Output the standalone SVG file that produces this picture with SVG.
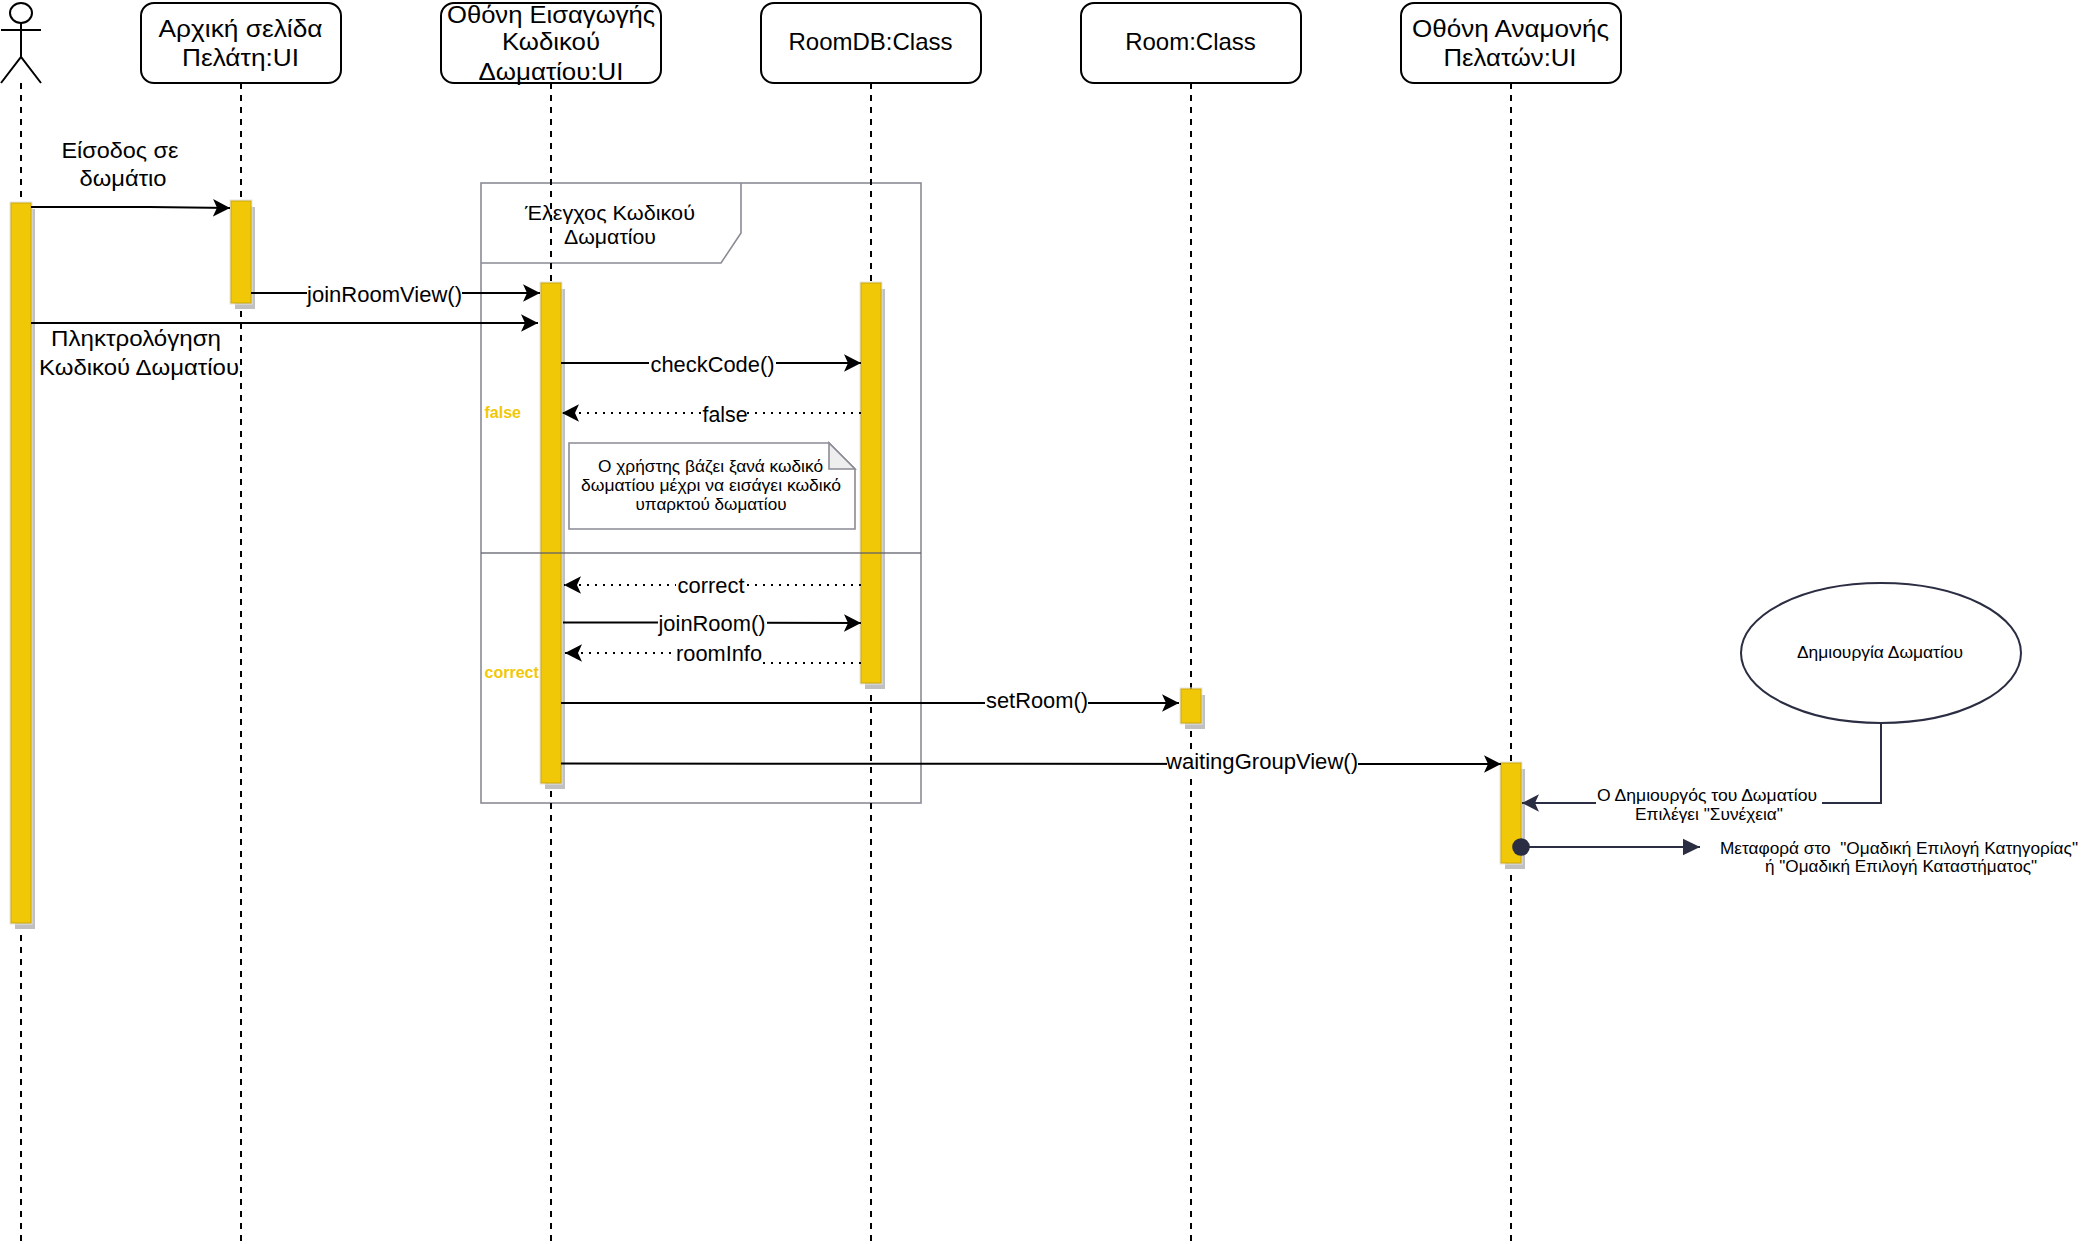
<svg xmlns="http://www.w3.org/2000/svg" width="2084" height="1244" viewBox="0 0 2084 1244">
<style>
text{font-family:"Liberation Sans",Arial,sans-serif;fill:#000;text-anchor:middle;white-space:pre}
.t24{font-size:24px}
.t21{font-size:21.33px}
.t20{font-size:20px}
.t16{font-size:16px}
.box{fill:#fff;stroke:#000;stroke-width:2}
.life{fill:none;stroke:#000;stroke-width:2;stroke-dasharray:6 6}
.act{fill:#f1c807;stroke:#c9a60e;stroke-width:1}
.halo{fill:none;stroke:#e4e4e4;stroke-width:1}
.shadow{fill:#c0c0c0;stroke:none}
.frame{fill:none;stroke:#8b8b96;stroke-width:1.6}
.msg{fill:none;stroke:#000;stroke-width:2}
.ret{fill:none;stroke:#000;stroke-width:2;stroke-dasharray:2 6}
.dark{fill:none;stroke:#2b2d42;stroke-width:2}
.bg{fill:#fff;stroke:none}
.yl{font-size:16px;font-weight:bold;fill:#f1c807;text-anchor:start}
</style>
<defs>
<marker id="arr" markerUnits="userSpaceOnUse" markerWidth="20" markerHeight="20" refX="17" refY="10" orient="auto"><path d="M0 1.3L17 10L0 18.7L4 10Z" fill="#000"/></marker>
<marker id="arrD" markerUnits="userSpaceOnUse" markerWidth="20" markerHeight="20" refX="17" refY="10" orient="auto"><path d="M0 1.3L17 10L0 18.7L4 10Z" fill="#2b2d42"/></marker>
<marker id="blockD" markerUnits="userSpaceOnUse" markerWidth="20" markerHeight="20" refX="17" refY="10" orient="auto"><path d="M0 1.7L17 10L0 18.3Z" fill="#2b2d42"/></marker>
</defs>
<g id="frame">
<rect class="frame" x="481" y="183" width="440" height="620"/>
<path class="frame" d="M481 263H721L741 233V183"/>
<text class="t20" x="610" y="220" textLength="170" lengthAdjust="spacingAndGlyphs">Έλεγχος Κωδικού</text>
<text class="t20" x="610" y="244" textLength="92" lengthAdjust="spacingAndGlyphs">Δωματίου</text>
<text class="yl" x="484.500" y="418">false</text>
<text class="yl" x="484.500" y="678">correct</text>
</g>
<g id="actor">
<line class="life" x1="21" y1="83" x2="21" y2="1244"/>
<g fill="none" stroke="#000" stroke-width="2">
<ellipse cx="21" cy="13" rx="11" ry="10" fill="#fff"/>
<path d="M21 23V57M1 30H41M1 83L21 57L41 83"/>
</g>
<rect class="shadow" x="15" y="209" width="20" height="720"/>
<rect class="halo" x="10" y="202" width="22" height="722"/>
<rect class="act" x="11" y="203" width="20" height="720"/>
</g>
<g id="home-ui">
<line class="life" x1="241" y1="83" x2="241" y2="1244"/>
<rect class="box" x="141" y="3" width="200" height="80" rx="13"/>
<text class="t24" x="240.500" y="36.500" textLength="164" lengthAdjust="spacingAndGlyphs">Αρχική σελίδα</text>
<text class="t24" x="240.500" y="66" textLength="117" lengthAdjust="spacingAndGlyphs">Πελάτη:UI</text>
<rect class="shadow" x="235" y="207" width="20" height="102"/>
<rect class="halo" x="230" y="200" width="22" height="104"/>
<rect class="act" x="231" y="201" width="20" height="102"/>
</g>
<g id="code-ui">
<line class="life" x1="551" y1="83" x2="551" y2="1244"/>
<rect class="box" x="441" y="3" width="220" height="80" rx="13"/>
<text class="t24" x="551" y="23" textLength="208" lengthAdjust="spacingAndGlyphs">Οθόνη Εισαγωγής</text>
<text class="t24" x="551" y="50" textLength="98" lengthAdjust="spacingAndGlyphs">Κωδικού</text>
<text class="t24" x="551" y="80" textLength="145" lengthAdjust="spacingAndGlyphs">Δωματίου:UI</text>
<rect class="shadow" x="545" y="289" width="20" height="500"/>
<rect class="halo" x="540" y="282" width="22" height="502"/>
<rect class="act" x="541" y="283" width="20" height="500"/>
</g>
<g id="roomdb">
<line class="life" x1="871" y1="83" x2="871" y2="1244"/>
<rect class="box" x="761" y="3" width="220" height="80" rx="13"/>
<text class="t24" x="870.500" y="50">RoomDB:Class</text>
<rect class="shadow" x="865" y="289" width="20" height="400"/>
<rect class="halo" x="860" y="282" width="22" height="402"/>
<rect class="act" x="861" y="283" width="20" height="400"/>
</g>
<g id="room">
<line class="life" x1="1191" y1="83" x2="1191" y2="1244"/>
<rect class="box" x="1081" y="3" width="220" height="80" rx="13"/>
<text class="t24" x="1190.500" y="50">Room:Class</text>
<rect class="shadow" x="1185" y="695" width="20" height="34"/>
<rect class="halo" x="1180" y="688" width="22" height="36"/>
<rect class="act" x="1181" y="689" width="20" height="34"/>
</g>
<g id="waiting-ui">
<line class="life" x1="1511" y1="83" x2="1511" y2="1244"/>
<rect class="box" x="1401" y="3" width="220" height="80" rx="13"/>
<text class="t24" x="1510.500" y="36.500" textLength="197" lengthAdjust="spacingAndGlyphs">Οθόνη Αναμονής</text>
<text class="t24" x="1510" y="66" textLength="133" lengthAdjust="spacingAndGlyphs">Πελατών:UI</text>
<rect class="shadow" x="1505" y="769" width="20" height="100"/>
<rect class="halo" x="1500" y="762" width="22" height="102"/>
<rect class="act" x="1501" y="763" width="20" height="100"/>
</g>
<g id="frame-divider"><line x1="481" y1="553" x2="921" y2="553" stroke="#5f5f6b" stroke-width="1.3" opacity="0.85"/></g>
<g id="note">
<path d="M569 443H829L855 469V529H569Z" fill="#fff" stroke="#8b8b96" stroke-width="1.6"/>
<path d="M829 443V469H855Z" fill="#eee" stroke="#8b8b96" stroke-width="1.6"/>
<text class="t16" x="710.500" y="472" textLength="225" lengthAdjust="spacingAndGlyphs">Ο χρήστης βάζει ξανά κωδικό</text>
<text class="t16" x="711" y="491" textLength="260" lengthAdjust="spacingAndGlyphs">δωματίου μέχρι να εισάγει κωδικό</text>
<text class="t16" x="711" y="510" textLength="151" lengthAdjust="spacingAndGlyphs">υπαρκτού δωματίου</text>
</g>
<g id="creator">
<ellipse cx="1881" cy="653" rx="140" ry="70" fill="#fff" stroke="#2b2d42" stroke-width="2"/>
<text class="t16" x="1880" y="658" textLength="166" lengthAdjust="spacingAndGlyphs">Δημιουργία Δωματίου</text>
</g>
<g id="connectors">
<path class="msg" d="M31 207H150L230 208" marker-end="url(#arr)"/>
<path class="msg" d="M251 293H540" marker-end="url(#arr)"/>
<rect class="bg" x="307" y="280" width="155" height="27"/>
<text class="t21" x="384.500" y="302" textLength="155" lengthAdjust="spacingAndGlyphs">joinRoomView()</text>
<path class="msg" d="M31 323H538" marker-end="url(#arr)"/>
<path class="msg" d="M561 363H861" marker-end="url(#arr)"/>
<rect class="bg" x="649" y="352" width="127" height="26"/>
<text class="t21" x="712.500" y="372" textLength="124" lengthAdjust="spacingAndGlyphs">checkCode()</text>
<path class="ret" d="M861 413H562" marker-end="url(#arr)"/>
<rect class="bg" x="702" y="402" width="45" height="24"/>
<text class="t21" x="725" y="422" textLength="45" lengthAdjust="spacingAndGlyphs">false</text>
<path class="ret" d="M861 585H564" marker-end="url(#arr)"/>
<rect class="bg" x="676" y="574" width="70" height="22"/>
<text class="t21" x="711" y="592.500" textLength="67" lengthAdjust="spacingAndGlyphs">correct</text>
<path class="msg" d="M563 622.500H700L861 623" marker-end="url(#arr)"/>
<rect class="bg" x="658" y="610" width="109" height="28"/>
<text class="t21" x="712" y="631" textLength="107" lengthAdjust="spacingAndGlyphs">joinRoom()</text>
<path class="ret" d="M861 663H720V653H565" marker-end="url(#arr)"/>
<rect class="bg" x="674" y="641" width="88" height="26"/>
<text class="t21" x="719" y="660.500" textLength="86" lengthAdjust="spacingAndGlyphs">roomInfo</text>
<path class="msg" d="M561 703H1179" marker-end="url(#arr)"/>
<rect class="bg" x="985" y="690" width="103" height="26"/>
<text class="t21" x="1037" y="708" textLength="102" lengthAdjust="spacingAndGlyphs">setRoom()</text>
<path class="msg" d="M561 763.500L1300 764H1501" marker-end="url(#arr)"/>
<rect class="bg" x="1167" y="750" width="191" height="26"/>
<text class="t21" x="1262" y="768.500" textLength="192" lengthAdjust="spacingAndGlyphs">waitingGroupView()</text>
<path class="dark" d="M1881 723V803H1522" marker-end="url(#arrD)"/>
<rect class="bg" x="1596" y="785" width="226" height="38"/>
<text class="t16" x="1707" y="800.500" textLength="220" lengthAdjust="spacingAndGlyphs">Ο Δημιουργός του Δωματίου</text>
<text class="t16" x="1709" y="819.500" textLength="148" lengthAdjust="spacingAndGlyphs">Επιλέγει "Συνέχεια"</text>
<path class="dark" d="M1521 847H1700" marker-end="url(#blockD)"/>
<circle cx="1521" cy="847" r="8.800" fill="#2b2d42"/>
<text class="t16" x="1899" y="854" textLength="358" lengthAdjust="spacingAndGlyphs">Μεταφορά στο  "Ομαδική Επιλογή Κατηγορίας"</text>
<text class="t16" x="1901" y="872" textLength="272" lengthAdjust="spacingAndGlyphs">ή "Ομαδική Επιλογή Καταστήματος"</text>
</g>
<g id="free-labels">
<text class="t21" x="120" y="158" textLength="117" lengthAdjust="spacingAndGlyphs">Είσοδος σε</text>
<text class="t21" x="123" y="186" textLength="87" lengthAdjust="spacingAndGlyphs">δωμάτιο</text>
<text class="t21" x="136" y="346" textLength="170" lengthAdjust="spacingAndGlyphs">Πληκτρολόγηση</text>
<text class="t21" x="139" y="375" textLength="200" lengthAdjust="spacingAndGlyphs">Κωδικού Δωματίου</text>
</g>
</svg>
